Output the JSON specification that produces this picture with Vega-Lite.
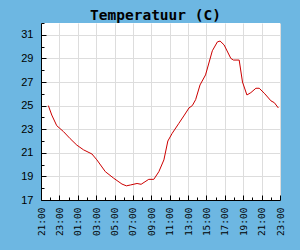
{
  "$schema": "https://vega.github.io/schema/vega-lite/v6.json",
  "width": 239,
  "height": 177,
  "autosize": "none",
  "padding": {"left": 41, "top": 23, "right": 20, "bottom": 50},
  "background": "#6db7e2",
  "title": {"text": "Temperatuur (C)", "font": "DejaVu Sans Mono", "fontSize": 14.5, "fontWeight": "bold", "color": "#000000", "anchor": "middle", "offset": 5, "dy": 11, "dx": -5},
  "config": {"view": {"fill": "white", "stroke": null}},
  "data": {"values": [
    {"h": 0.80, "t": 25.0},
    {"h": 1.17, "t": 24.2},
    {"h": 1.71, "t": 23.3},
    {"h": 2.44, "t": 22.8},
    {"h": 3.17, "t": 22.2},
    {"h": 3.90, "t": 21.65},
    {"h": 4.63, "t": 21.25},
    {"h": 5.54, "t": 20.9},
    {"h": 6.08, "t": 20.4},
    {"h": 7.00, "t": 19.4},
    {"h": 7.90, "t": 18.85},
    {"h": 8.81, "t": 18.35},
    {"h": 9.29, "t": 18.2},
    {"h": 9.72, "t": 18.27},
    {"h": 10.45, "t": 18.4},
    {"h": 10.89, "t": 18.33},
    {"h": 11.72, "t": 18.75},
    {"h": 12.27, "t": 18.75},
    {"h": 12.82, "t": 19.4},
    {"h": 13.37, "t": 20.4},
    {"h": 13.80, "t": 22.0},
    {"h": 14.27, "t": 22.65},
    {"h": 15.00, "t": 23.5},
    {"h": 15.60, "t": 24.2},
    {"h": 16.10, "t": 24.8},
    {"h": 16.46, "t": 25.0},
    {"h": 16.82, "t": 25.5},
    {"h": 17.30, "t": 26.75},
    {"h": 17.90, "t": 27.6},
    {"h": 18.64, "t": 29.65},
    {"h": 19.19, "t": 30.4},
    {"h": 19.48, "t": 30.47},
    {"h": 19.92, "t": 30.14},
    {"h": 20.65, "t": 29.0},
    {"h": 20.94, "t": 28.86},
    {"h": 21.56, "t": 28.86},
    {"h": 21.92, "t": 27.0},
    {"h": 22.40, "t": 25.9},
    {"h": 22.83, "t": 26.1},
    {"h": 23.38, "t": 26.47},
    {"h": 23.74, "t": 26.47},
    {"h": 24.29, "t": 26.05},
    {"h": 25.02, "t": 25.4},
    {"h": 25.38, "t": 25.25},
    {"h": 25.82, "t": 24.8}
  ]},
  "mark": {"type": "line", "color": "#cc0000", "strokeWidth": 1},
  "encoding": {
    "x": {
      "field": "h",
      "type": "quantitative",
      "scale": {"domain": [0, 26], "nice": false, "zero": false},
      "axis": {
        "title": null,
        "values": [0,1,2,3,4,5,6,7,8,9,10,11,12,13,14,15,16,17,18,19,20,21,22,23,24,25,26],
        "labelExpr": "datum.value % 2 == 0 ? format((datum.value + 21) % 24, '02d') + ':00' : ''",
        "labelAngle": 270,
        "labelFont": "DejaVu Sans Mono",
        "labelFontSize": 9.5,
        "labelColor": "#000000",
        "labelPadding": 12,
        "labelOverlap": false,
        "labelFlush": false,
        "tickColor": "#000000",
        "tickSize": {"condition": {"test": "datum.value % 2 == 0", "value": -5}, "value": -3},
        "domainColor": "#000000",
        "grid": true,
        "gridColor": "#dddddd",
        "gridOpacity": {"condition": {"test": "datum.value % 2 == 0", "value": 1}, "value": 0}
      }
    },
    "y": {
      "field": "t",
      "type": "quantitative",
      "scale": {"domain": [17, 32], "nice": false, "zero": false},
      "axis": {
        "title": null,
        "values": [17,18,19,20,21,22,23,24,25,26,27,28,29,30,31,32],
        "labelExpr": "datum.value % 2 == 1 ? datum.value + '' : ''",
        "labelFont": "Liberation Sans",
        "labelFontSize": 11,
        "labelColor": "#000000",
        "labelPadding": 13,
        "labelOverlap": false,
        "labelFlush": false,
        "tickColor": "#000000",
        "tickSize": {"condition": {"test": "datum.value % 2 == 1", "value": -5}, "value": -3},
        "domainColor": "#000000",
        "grid": true,
        "gridColor": "#dddddd",
        "gridOpacity": {"condition": {"test": "datum.value % 2 == 1", "value": 1}, "value": 0}
      }
    }
  }
}
